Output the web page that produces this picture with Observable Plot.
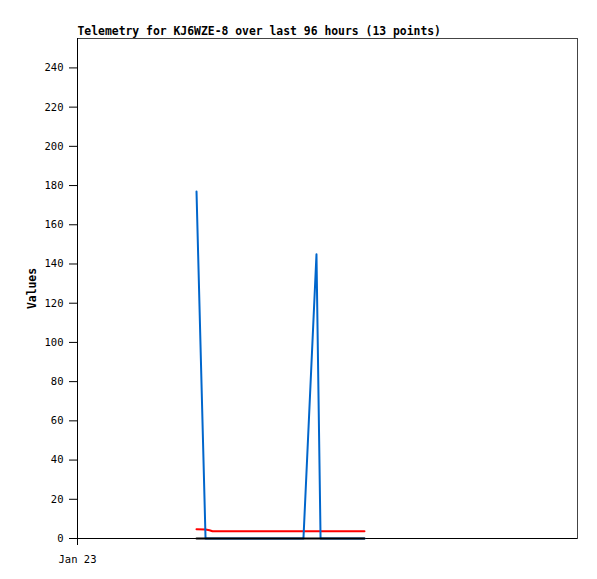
<!DOCTYPE html>
<html>
<head>
<meta charset="utf-8">
<script src="https://cdn.jsdelivr.net/npm/d3@7"></script>
<script src="https://cdn.jsdelivr.net/npm/@observablehq/plot@0.6"></script>
<style>
  html, body { margin: 0; padding: 0; background: #fff; }
  svg { display: block; }
</style>
</head>
<body>
<div id="chart"></div>
<script>
const titleText = "Telemetry for KJ6WZE-8 over last 96 hours (13 points)";
const yLabel = "Values";
const times = [
  "2024-01-23T22:51Z", "2024-01-24T00:35Z", "2024-01-24T01:20Z", "2024-01-24T01:55Z",
  "2024-01-24T05:23Z", "2024-01-24T11:08Z", "2024-01-24T16:54Z", "2024-01-24T19:23Z",
  "2024-01-24T21:53Z", "2024-01-24T22:40Z", "2024-01-25T01:32Z", "2024-01-25T04:25Z",
  "2024-01-25T07:06Z"
];
const blueValues  = [177, 0, 0, 0, 0, 0, 0, 0, 145, 0, 0, 0, 0];
const redValues   = [4.7, 4.6, 4.2, 3.7, 3.7, 3.7, 3.7, 3.7, 3.7, 3.7, 3.7, 3.7, 3.7];
const blackValues = [0, 0, 0, 0, 0, 0, 0, 0, 0, 0, 0, 0, 0];
const yTicks = [0, 20, 40, 60, 80, 100, 120, 140, 160, 180, 200, 220, 240];
const xTicks = ["2024-01-23T00:00Z"];
const xDomain = ["2024-01-23T00:00Z", "2024-01-27T00:00Z"];

const rows = (vals) => times.map((t, i) => ({t: new Date(t), v: vals[i]}));
const blue = rows(blueValues), red = rows(redValues), black = rows(blackValues);

const font = "'DejaVu Sans Mono', 'Liberation Mono', monospace";

const chart = Plot.plot({
  width: 597,
  height: 579,
  marginLeft: 77,
  marginRight: 20,
  marginTop: 38,
  marginBottom: 41,
  style: {fontFamily: font, fontSize: "10.5px", color: "#000", background: "#fff"},
  x: {type: "utc", domain: xDomain.map(d => new Date(d)), label: null},
  y: {domain: [0, 255], label: null},
  marks: [
    Plot.frame({stroke: "#444", strokeWidth: 1}),
    Plot.axisY({ticks: yTicks, tickSize: 8, tickPadding: 6, label: null, stroke: "#000"}),
    Plot.axisX({ticks: xTicks.map(d => new Date(d)), tickFormat: d3.utcFormat("%b %d"), tickSize: 7, tickPadding: 10, label: null}),
    Plot.ruleX([new Date(xDomain[0])], {stroke: "#000", strokeWidth: 1}),
    Plot.ruleY([0], {stroke: "#000", strokeWidth: 1}),
    Plot.line(red, {x: "t", y: "v", stroke: "#ff0000", strokeWidth: 2}),
    Plot.line(blue, {x: "t", y: "v", stroke: "#0066cc", strokeWidth: 2}),
    Plot.line(black, {x: "t", y: "v", stroke: "#000", strokeWidth: 2}),
    Plot.text([titleText], {frameAnchor: "top-left", dy: -4, lineAnchor: "bottom", textAnchor: "start",
      fontWeight: "bold", fontSize: 11.4}),
    Plot.text([yLabel], {frameAnchor: "left", dx: -45, rotate: -90, textAnchor: "middle",
      fontWeight: "bold", fontSize: 11.4})
  ]
});
document.getElementById("chart").appendChild(chart);
</script>
</body>
</html>
